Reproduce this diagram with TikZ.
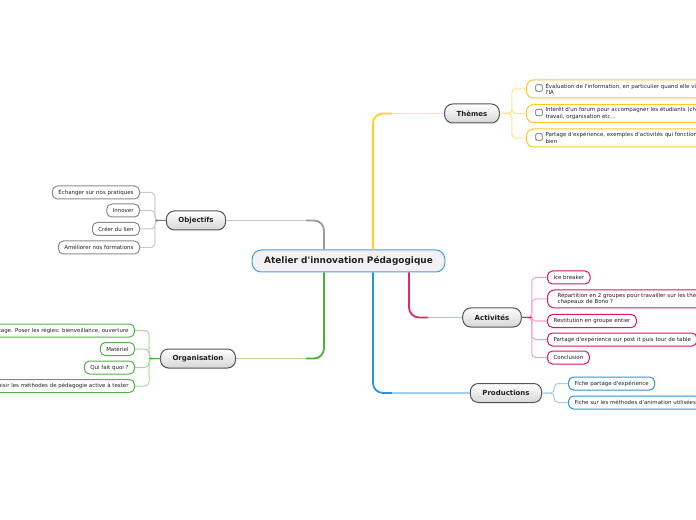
\documentclass[tikz,border=0pt]{standalone}
\usepackage{fontspec}
\setmainfont{DejaVu Sans}[Ligatures=TeXOff]
\usetikzlibrary{calc}
\newdimen\px \px=0.75pt
\definecolor{txt}{HTML}{222222}
\definecolor{centralborder}{HTML}{4A9EE0}
\definecolor{centralfill}{HTML}{F3F1F1}
\definecolor{catborder}{HTML}{555555}
\definecolor{catbot}{HTML}{D6D6D6}
\definecolor{gstrongc}{HTML}{9A9A9A}
\definecolor{glightc}{HTML}{C8C8C8}
\definecolor{gborderc}{HTML}{8C8C8C}
\definecolor{ystrongc}{HTML}{FFD21A}
\definecolor{ylightc}{HTML}{FFE585}
\definecolor{yborderc}{HTML}{FFC926}
\definecolor{pstrongc}{HTML}{E8246A}
\definecolor{plightc}{HTML}{F5A3C0}
\definecolor{pborderc}{HTML}{D81B5A}
\definecolor{bstrongc}{HTML}{2196E6}
\definecolor{blightc}{HTML}{9FD0F2}
\definecolor{bborderc}{HTML}{2B96E0}
\definecolor{grstrongc}{HTML}{4CAF3A}
\definecolor{grlightc}{HTML}{A9D99C}
\definecolor{grborderc}{HTML}{58B04A}
\tikzset{
  mainbox/.style={draw=centralborder, fill=centralfill, rounded corners=9\px, line width=1\px,
    minimum height=22\px, inner xsep=12\px, inner ysep=0pt,
    font=\fontsize{6.7}{8}\selectfont\bfseries, text=txt},
  catbox/.style={draw=catborder, top color=white, bottom color=catbot, rounded corners=8\px,
    line width=1\px, minimum height=19\px, inner xsep=12\px, inner ysep=0pt,
    font=\fontsize{5.25}{6}\selectfont\bfseries, text=txt},
  leaf/.style={fill=white, rounded corners=5\px, line width=1\px, minimum height=13\px,
    inner xsep=6\px, inner ysep=0pt, font=\fontsize{4.1}{4.9}\selectfont, text=txt},
  leaftwo/.style={leaf, minimum height=18\px, align=left, rounded corners=7\px},
  chk/.style={draw=gray!80!black, fill=white, rounded corners=1\px, minimum size=6.5\px,
    inner sep=0pt, line width=0.7\px},
  strongline/.style={line width=1.8\px, rounded corners=10\px},
  lightline/.style={line width=1.1\px},
  twig/.style={line width=1\px, rounded corners=4\px},
}
\begin{document}
\begin{tikzpicture}[x=0.75pt, y=-0.75pt]
\clip (0,0) rectangle (696,520);
\fill[white] (0,0) rectangle (696,520);

% central and categories
\node[mainbox] (central) at (348.5,261) {Atelier d'innovation Pédagogique};
\node[catbox] (obj) at (196,220.5) {Objectifs};
\node[catbox] (org) at (198,358.5) {Organisation};
\node[catbox] (themes) at (472,113.5) {Thèmes};
\node[catbox] (act) at (492,317.5) {Activités};
\node[catbox] (prod) at (506,393) {Productions};

% main branches
\draw[strongline, gstrongc] ($(central.north)+(-24.5,0)$) |- ($(obj.east)+(80,0)$);
\draw[lightline, glightc] ($(obj.east)+(80,0)$) -- (obj.east);
\draw[strongline, grstrongc] ($(central.south)+(-24.5,0)$) |- ($(org.east)+(70,0)$);
\draw[lightline, grlightc] ($(org.east)+(70,0)$) -- (org.east);
\draw[strongline, ystrongc] ($(central.north)+(24.5,0)$) |- ($(themes.west)+(-52,0)$);
\draw[lightline, ylightc] ($(themes.west)+(-52,0)$) -- (themes.west);
\draw[strongline, bstrongc] ($(central.south)+(24.5,0)$) |- ($(prod.west)+(-78,0)$);
\draw[lightline, blightc] ($(prod.west)+(-78,0)$) -- (prod.west);
\draw[strongline, pstrongc] ($(central.south)+(60.5,0)$) |- ($(act.west)+(-34,0)$);
\draw[lightline, plightc] ($(act.west)+(-34,0)$) -- (act.west);

% Objectifs leaves
\node[leaf, draw=gborderc, anchor=east] (o1) at (140,192.5) {Échanger sur nos pratiques};
\node[leaf, draw=gborderc, anchor=east] (o2) at (140,210.5) {Innover};
\node[leaf, draw=gborderc, anchor=east] (o3) at (140,229) {Créer du lien};
\node[leaf, draw=gborderc, anchor=east] (o4) at (140,247.5) {Améliorer nos formations};
\foreach \n in {o1,o2,o3,o4} \draw[twig, glightc] (obj.west) -- ++(-11,0) |- (\n.east);
\draw[line width=1.4\px, gray] (obj.west) -- ++(-11,0);

% Organisation leaves
\node[leaf, draw=grborderc, anchor=east] (g1) at (135,330.5) {partage. Poser les règles: bienveillance, ouverture};
\node[leaf, draw=grborderc, anchor=east] (g2) at (135,349) {Matériel};
\node[leaf, draw=grborderc, anchor=east] (g3) at (135,367.5) {Qui fait quoi ?};
\node[leaf, draw=grborderc, anchor=east] (g4) at (135,386) {Choisir les méthodes de pédagogie active à tester};
\foreach \n in {g1,g2,g3,g4} \draw[twig, grlightc] (org.west) -- ++(-11,0) |- (\n.east);
\draw[line width=1.4\px, grstrongc] (org.west) -- ++(-11,0);

% Thèmes leaves
\node[leaftwo, draw=yborderc, anchor=west, inner xsep=19\px] (t1) at (526,89)
  {Évaluation de l'information, en particulier quand elle vient de\\l'IA};
\node[leaftwo, draw=yborderc, anchor=west, inner xsep=19\px] (t2) at (526,113.5)
  {Intérêt d'un forum pour accompagner les étudiants (charge de\\travail, organisation etc...};
\node[leaftwo, draw=yborderc, anchor=west, inner xsep=19\px] (t3) at (526,138)
  {Partage d'expérience, exemples d'activités qui fonctionnent\\bien};
\node[chk] (c1) at ($(t1.west)+(13,-1)$) {};
\node[chk] (c2) at ($(t2.west)+(13,-1)$) {};
\node[chk] (c3) at ($(t3.west)+(13,-1)$) {};
\foreach \n in {t1,t2,t3} \draw[twig, ylightc] (themes.east) -- ++(12,0) |- (\n.west);

% Activités leaves
\node[leaf, draw=pborderc, anchor=west] (a1) at (547,277.5) {Ice breaker};
\node[leaftwo, draw=pborderc, anchor=west, inner xsep=10\px] (a2) at (547,299)
  {Répartition en 2 groupes pour travailler sur les thèmes avec les\\chapeaux de Bono ?};
\node[leaf, draw=pborderc, anchor=west] (a3) at (547,321) {Restitution en groupe entier};
\node[leaf, draw=pborderc, anchor=west] (a4) at (547,339.5) {Partage d'expérience sur post it puis tour de table};
\node[leaf, draw=pborderc, anchor=west] (a5) at (547,357.5) {Conclusion};
\foreach \n in {a1,a2,a3,a4,a5} \draw[twig, plightc] (act.east) -- ++(10,0) |- (\n.west);
\draw[line width=1.6\px, pstrongc] (act.east) -- ++(10,0);

% Productions leaves
\node[leaf, draw=bborderc, anchor=west] (p1) at (568,383.5) {Fiche partage d'expérience};
\node[leaf, draw=bborderc, anchor=west] (p2) at (568,402.5) {Fiche sur les méthodes d'animation utilisées};
\foreach \n in {p1,p2} \draw[twig, blightc] (prod.east) -- ++(12,0) |- (\n.west);
\end{tikzpicture}
\end{document}
